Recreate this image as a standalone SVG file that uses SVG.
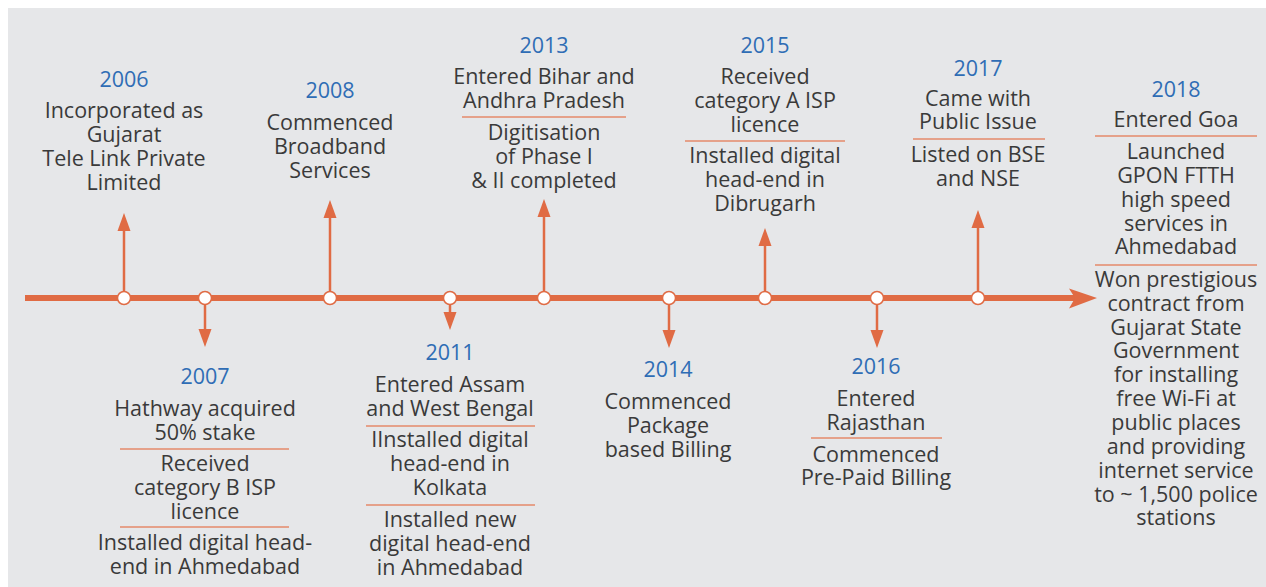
<svg xmlns="http://www.w3.org/2000/svg" width="1266" height="587" viewBox="0 0 1266 587">
<defs>
<style>
.bg{fill:#e6e7e9}
.t{font-family:"Open Sans","Liberation Sans",sans-serif;font-size:21.5px;fill:#3a3a3a;text-anchor:middle}
.y{font-family:"Open Sans","Liberation Sans",sans-serif;font-size:21.5px;fill:#2f6db5;text-anchor:middle}
.sep{stroke:#e58a6a;stroke-width:1.5}
.stem{stroke:#e06b44;stroke-width:2.5;fill:none}
.dot{fill:#ffffff;stroke:#e06b44;stroke-width:1.5}
.head{fill:#e06b44}
</style>
</defs>
<rect x="0" y="0" width="1266" height="587" fill="#ffffff"/>
<rect x="8" y="8" width="1258" height="579" class="bg"/>

<g id="connectors">
<line x1="25" y1="298" x2="1078" y2="298" stroke="#e06b44" stroke-width="6"/>
<path d="M1069,288.5 L1097,298 L1069,308.5 L1075,298 Z" class="head"/>
<line x1="124" y1="298" x2="124" y2="228" class="stem"/><path d="M124,213 L130.5,231 L117.5,231 Z" class="head"/>
<line x1="330" y1="298" x2="330" y2="215" class="stem"/><path d="M330,200 L336.5,218 L323.5,218 Z" class="head"/>
<line x1="544" y1="298" x2="544" y2="215" class="stem"/><path d="M544,199 L550.5,217 L537.5,217 Z" class="head"/>
<line x1="765" y1="298" x2="765" y2="243" class="stem"/><path d="M765,228 L771.5,246 L758.5,246 Z" class="head"/>
<line x1="978" y1="298" x2="978" y2="225" class="stem"/><path d="M978,210 L984.5,228 L971.5,228 Z" class="head"/>
<line x1="205" y1="298" x2="205" y2="332" class="stem"/><path d="M205,347 L211.5,329 L198.5,329 Z" class="head"/>
<line x1="450" y1="298" x2="450" y2="315" class="stem"/><path d="M450,330 L456.5,312 L443.5,312 Z" class="head"/>
<line x1="669" y1="298" x2="669" y2="333" class="stem"/><path d="M669,348 L675.5,330 L662.5,330 Z" class="head"/>
<line x1="877" y1="298" x2="877" y2="333" class="stem"/><path d="M877,348 L883.5,330 L870.5,330 Z" class="head"/>
<circle cx="124" cy="298" r="6.5" class="dot"/>
<circle cx="205" cy="298" r="6.5" class="dot"/>
<circle cx="330" cy="298" r="6.5" class="dot"/>
<circle cx="450" cy="298" r="6.5" class="dot"/>
<circle cx="544" cy="298" r="6.5" class="dot"/>
<circle cx="669" cy="298" r="6.5" class="dot"/>
<circle cx="765" cy="298" r="6.5" class="dot"/>
<circle cx="877" cy="298" r="6.5" class="dot"/>
<circle cx="978" cy="298" r="6.5" class="dot"/>
</g>

<g id="n2006">
<text class="y" x="124" y="87">2006</text>
<text class="t" x="124" y="118">Incorporated as</text>
<text class="t" x="124" y="142">Gujarat</text>
<text class="t" x="124" y="166">Tele Link Private</text>
<text class="t" x="124" y="190">Limited</text>
</g>

<g id="n2007">
<text class="y" x="205" y="384">2007</text>
<text class="t" x="205" y="416">Hathway acquired</text>
<text class="t" x="205" y="440">50% stake</text>
<line x1="120" y1="449" x2="289" y2="449" class="sep"/>
<text class="t" x="205" y="471">Received</text>
<text class="t" x="205" y="495">category B ISP</text>
<text class="t" x="205" y="519">licence</text>
<line x1="120" y1="527" x2="289" y2="527" class="sep"/>
<text class="t" x="205" y="550">Installed digital head-</text>
<text class="t" x="205" y="574">end in Ahmedabad</text>
</g>

<g id="n2008">
<text class="y" x="330" y="98">2008</text>
<text class="t" x="330" y="130">Commenced</text>
<text class="t" x="330" y="154">Broadband</text>
<text class="t" x="330" y="178">Services</text>
</g>

<g id="n2011">
<text class="y" x="450" y="360">2011</text>
<text class="t" x="450" y="392">Entered Assam</text>
<text class="t" x="450" y="416">and West Bengal</text>
<line x1="366" y1="426" x2="535" y2="426" class="sep"/>
<text class="t" x="450" y="447">IInstalled digital</text>
<text class="t" x="450" y="471">head-end in</text>
<text class="t" x="450" y="495">Kolkata</text>
<line x1="366" y1="505" x2="535" y2="505" class="sep"/>
<text class="t" x="450" y="527">Installed new</text>
<text class="t" x="450" y="551">digital head-end</text>
<text class="t" x="450" y="575">in Ahmedabad</text>
</g>

<g id="n2013">
<text class="y" x="544" y="53">2013</text>
<text class="t" x="544" y="84">Entered Bihar and</text>
<text class="t" x="544" y="108">Andhra Pradesh</text>
<line x1="462" y1="117" x2="626" y2="117" class="sep"/>
<text class="t" x="544" y="140">Digitisation</text>
<text class="t" x="544" y="164">of Phase I</text>
<text class="t" x="544" y="188">&amp; II completed</text>
</g>

<g id="n2014">
<text class="y" x="668" y="377">2014</text>
<text class="t" x="668" y="409">Commenced</text>
<text class="t" x="668" y="433">Package</text>
<text class="t" x="668" y="457">based Billing</text>
</g>

<g id="n2015">
<text class="y" x="765" y="53">2015</text>
<text class="t" x="765" y="84">Received</text>
<text class="t" x="765" y="108">category A ISP</text>
<text class="t" x="765" y="132">licence</text>
<line x1="685" y1="141" x2="845" y2="141" class="sep"/>
<text class="t" x="765" y="163">Installed digital</text>
<text class="t" x="765" y="187">head-end in</text>
<text class="t" x="765" y="211">Dibrugarh</text>
</g>

<g id="n2016">
<text class="y" x="876" y="374">2016</text>
<text class="t" x="876" y="406">Entered</text>
<text class="t" x="876" y="430">Rajasthan</text>
<line x1="811" y1="438" x2="942" y2="438" class="sep"/>
<text class="t" x="876" y="462">Commenced</text>
<text class="t" x="876" y="485">Pre-Paid Billing</text>
</g>

<g id="n2017">
<text class="y" x="978" y="76">2017</text>
<text class="t" x="978" y="106">Came with</text>
<text class="t" x="978" y="129">Public Issue</text>
<line x1="913" y1="139" x2="1045" y2="139" class="sep"/>
<text class="t" x="978" y="162">Listed on BSE</text>
<text class="t" x="978" y="186">and NSE</text>
</g>

<g id="n2018">
<text class="y" x="1176" y="97">2018</text>
<text class="t" x="1176" y="127">Entered Goa</text>
<line x1="1095" y1="136" x2="1257" y2="136" class="sep"/>
<text class="t" x="1176" y="159">Launched</text>
<text class="t" x="1176" y="183">GPON FTTH</text>
<text class="t" x="1176" y="207">high speed</text>
<text class="t" x="1176" y="231">services in</text>
<text class="t" x="1176" y="254">Ahmedabad</text>
<line x1="1095" y1="265" x2="1257" y2="265" class="sep"/>
<text class="t" x="1176" y="287">Won prestigious</text>
<text class="t" x="1176" y="311">contract from</text>
<text class="t" x="1176" y="335">Gujarat State</text>
<text class="t" x="1176" y="358">Government</text>
<text class="t" x="1176" y="382">for installing</text>
<text class="t" x="1176" y="406">free Wi-Fi at</text>
<text class="t" x="1176" y="430">public places</text>
<text class="t" x="1176" y="454">and providing</text>
<text class="t" x="1176" y="478">internet service</text>
<text class="t" x="1176" y="502">to ~ 1,500 police</text>
<text class="t" x="1176" y="525">stations</text>
</g>
</svg>
